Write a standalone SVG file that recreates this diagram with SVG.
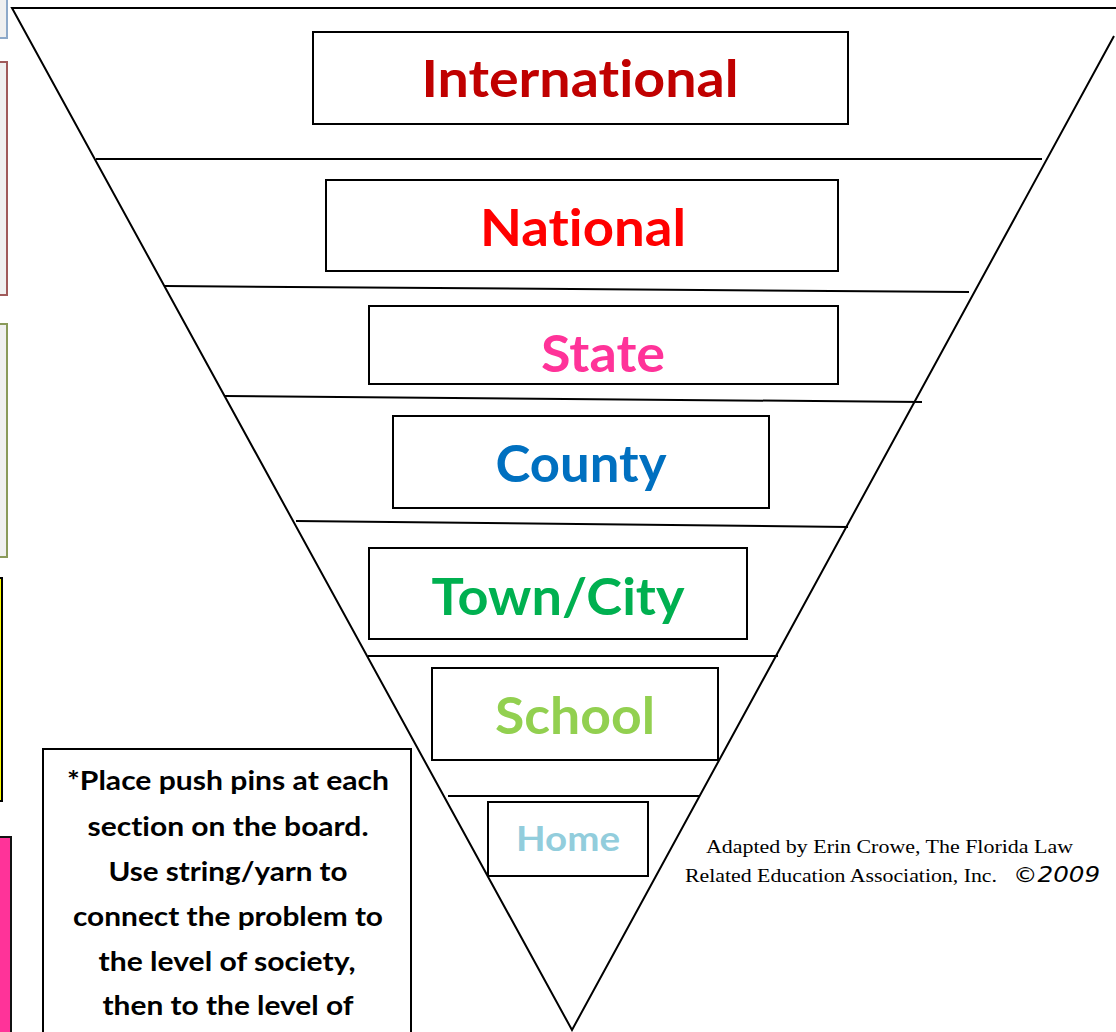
<svg xmlns="http://www.w3.org/2000/svg" width="1116" height="1032" viewBox="0 0 1116 1032">
<style>
.frame{fill:none;stroke:#000;stroke-width:2}
.box{fill:#fff;stroke:#000;stroke-width:2}
.lbl{font-family:Lato,"Open Sans","Liberation Sans",sans-serif;font-weight:bold;text-anchor:middle;font-variant-ligatures:none}
.note{font-family:Lato,"Open Sans","Liberation Sans",sans-serif;font-weight:bold;font-size:27px;fill:#000;text-anchor:middle;font-variant-ligatures:none}
.credit{font-family:"Liberation Serif","DejaVu Serif",serif;font-size:19px;fill:#000}
</style>
<rect width="1116" height="1032" fill="#fff"/>
<g id="edge-decor">
<rect x="-2" y="-2" width="9" height="40" fill="#f0f0f0" stroke="#8ea9c9" stroke-width="2"/>
<rect x="-2" y="62" width="9" height="233" fill="#f0f0f0" stroke="#a05a5a" stroke-width="2"/>
<rect x="-2" y="324" width="9" height="233" fill="#f0f0f0" stroke="#8a9a5a" stroke-width="2"/>
<rect x="-2" y="578" width="4" height="223" fill="#ffff00" stroke="#000" stroke-width="2"/>
<rect x="-2" y="837" width="13" height="200" fill="#ff3399" stroke="#111" stroke-width="2"/>
</g>
<g id="connectors">
<polyline class="frame" points="1116,8 12,8 572,1030 1114,36"/>
<line class="frame" x1="96" y1="159" x2="1042" y2="159"/>
<line class="frame" x1="165" y1="286" x2="969" y2="292"/>
<line class="frame" x1="225" y1="396" x2="922" y2="402"/>
<line class="frame" x1="296" y1="521" x2="848" y2="527"/>
<line class="frame" x1="368" y1="656" x2="778" y2="656"/>
<line class="frame" x1="448" y1="796" x2="700" y2="796"/>
</g>
<g id="international">
<rect class="box" x="313" y="32" width="535" height="92"/>
<text class="lbl" x="580" y="97" font-size="52" fill="#c00000" textLength="317" lengthAdjust="spacingAndGlyphs">International</text>
</g>
<g id="national">
<rect class="box" x="326" y="180" width="512" height="91"/>
<text class="lbl" x="583" y="246" font-size="52" fill="#ff0000" textLength="206" lengthAdjust="spacingAndGlyphs">National</text>
</g>
<g id="state">
<rect class="box" x="369" y="306" width="469" height="78"/>
<text class="lbl" x="603" y="372" font-size="52" fill="#ff3399" textLength="124" lengthAdjust="spacingAndGlyphs">State</text>
</g>
<g id="county">
<rect class="box" x="393" y="416" width="376" height="92"/>
<text class="lbl" x="581" y="482" font-size="52" fill="#0070c0" textLength="171" lengthAdjust="spacingAndGlyphs">County</text>
</g>
<g id="towncity">
<rect class="box" x="369" y="548" width="378" height="91"/>
<text class="lbl" x="558" y="615" font-size="52" fill="#00b050" textLength="253" lengthAdjust="spacingAndGlyphs">Town/City</text>
</g>
<g id="school">
<rect class="box" x="432" y="668" width="286" height="92"/>
<text class="lbl" x="575" y="734" font-size="52" fill="#92d050" textLength="160" lengthAdjust="spacingAndGlyphs">School</text>
</g>
<g id="home">
<rect class="box" x="488" y="802" width="160" height="74"/>
<text class="lbl" x="568" y="851" font-size="35" fill="#92cddc" textLength="104" lengthAdjust="spacingAndGlyphs">Home</text>
</g>
<g id="instructions">
<rect class="box" x="43" y="749" width="368" height="300"/>
<text class="note" x="228" y="790" textLength="322" lengthAdjust="spacingAndGlyphs">*Place push pins at each</text>
<text class="note" x="228" y="836" textLength="281" lengthAdjust="spacingAndGlyphs">section on the board.</text>
<text class="note" x="228" y="881" textLength="239" lengthAdjust="spacingAndGlyphs">Use string/yarn to</text>
<text class="note" x="228" y="926" textLength="310" lengthAdjust="spacingAndGlyphs">connect the problem to</text>
<text class="note" x="227" y="971" textLength="257" lengthAdjust="spacingAndGlyphs">the level of society,</text>
<text class="note" x="228" y="1015" textLength="251" lengthAdjust="spacingAndGlyphs">then to the level of</text>
</g>
<g id="credit">
<text class="credit" x="706" y="853" textLength="367" lengthAdjust="spacingAndGlyphs">Adapted by Erin Crowe, The Florida Law</text>
<text class="credit" x="685" y="882" textLength="312" lengthAdjust="spacingAndGlyphs">Related Education Association, Inc.</text>
<text x="1013" y="882" font-family="'DejaVu Sans','Liberation Sans',sans-serif" font-style="italic" font-size="21" fill="#000" textLength="87" lengthAdjust="spacingAndGlyphs">©2009</text>
</g>
</svg>
